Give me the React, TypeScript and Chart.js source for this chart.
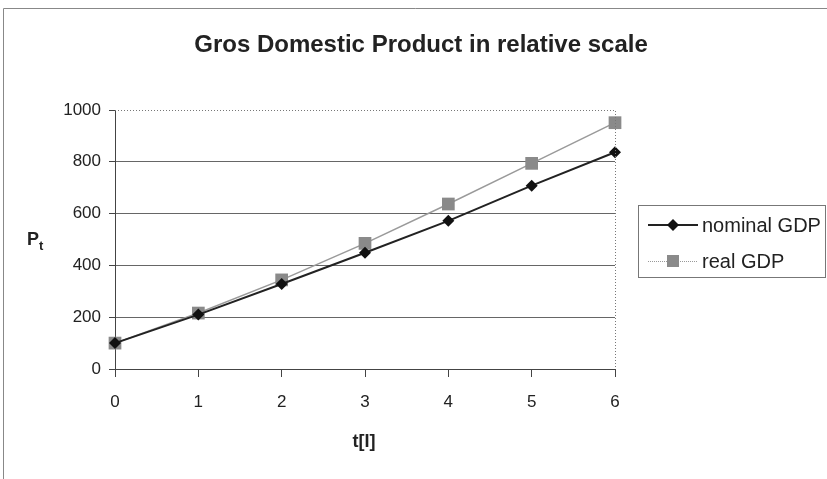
import React, { useEffect, useRef } from "react";
import { Chart, registerables } from "chart.js";

Chart.register(...registerables);

const categories = ["0", "1", "2", "3", "4", "5", "6"];
const nominalGDP = [100, 210, 328, 449, 572, 708, 837];
const realGDP = [100, 216, 344, 485, 637, 794, 951];
const seriesNames = ["nominal GDP", "real GDP"];
const titleText = "Gros Domestic Product in relative scale";
const xTitle = "t[I]";
const yTitleMain = "P";
const yTitleSub = "t";

const FONT = "'Liberation Sans', Arial, sans-serif";
const TEXT = "#222";

const decorPlugin = {
  id: "decor",
  afterDraw(chart: any) {
    const { ctx, chartArea } = chart;
    const ca = chartArea;
    ctx.save();
    // outer frame
    ctx.strokeStyle = "#888";
    ctx.lineWidth = 1;
    ctx.beginPath();
    ctx.moveTo(3.5, 479);
    ctx.lineTo(3.5, 8.5);
    ctx.lineTo(827, 8.5);
    ctx.stroke();

    // dotted plot border top/right
    ctx.strokeStyle = "#777";
    ctx.setLineDash([1, 2]);
    ctx.beginPath();
    ctx.moveTo(ca.left, ca.top + 0.5);
    ctx.lineTo(ca.right + 0.5, ca.top + 0.5);
    ctx.lineTo(ca.right + 0.5, ca.bottom);
    ctx.stroke();
    ctx.setLineDash([]);

    // title
    ctx.fillStyle = TEXT;
    ctx.font = `bold 24px ${FONT}`;
    ctx.textAlign = "center";
    ctx.textBaseline = "middle";
    ctx.fillText(titleText, 421, 45);

    // x title
    ctx.font = `bold 18px ${FONT}`;
    ctx.fillText(xTitle, 364, 442);

    // y title P_t
    ctx.textAlign = "left";
    ctx.font = `bold 18px ${FONT}`;
    ctx.fillText(yTitleMain, 27, 240);
    const pw = ctx.measureText(yTitleMain).width;
    ctx.font = `bold 13px ${FONT}`;
    ctx.fillText(yTitleSub, 27 + pw, 246);

    // legend
    ctx.strokeStyle = "#777";
    ctx.lineWidth = 1;
    ctx.strokeRect(638.5, 205.5, 187, 72);
    const rows = [225, 261];
    // row 1
    ctx.strokeStyle = "#222";
    ctx.lineWidth = 2;
    ctx.beginPath();
    ctx.moveTo(648, rows[0]);
    ctx.lineTo(698, rows[0]);
    ctx.stroke();
    ctx.fillStyle = "#111";
    ctx.beginPath();
    ctx.moveTo(673, rows[0] - 6);
    ctx.lineTo(679, rows[0]);
    ctx.lineTo(673, rows[0] + 6);
    ctx.lineTo(667, rows[0]);
    ctx.closePath();
    ctx.fill();
    // row 2
    ctx.strokeStyle = "#999";
    ctx.lineWidth = 1;
    ctx.setLineDash([1, 1]);
    ctx.beginPath();
    ctx.moveTo(648, rows[1] + 0.5);
    ctx.lineTo(698, rows[1] + 0.5);
    ctx.stroke();
    ctx.setLineDash([]);
    ctx.fillStyle = "#8a8a8a";
    ctx.fillRect(667, rows[1] - 6, 12, 12);

    ctx.fillStyle = TEXT;
    ctx.font = `20px ${FONT}`;
    ctx.textBaseline = "middle";
    ctx.fillText(seriesNames[0], 702, rows[0] + 1);
    ctx.fillText(seriesNames[1], 702, rows[1] + 1);
    ctx.restore();
  },
};

export default function App() {
  const ref = useRef<HTMLCanvasElement | null>(null);
  useEffect(() => {
    if (!ref.current) return;
    const chart = new Chart(ref.current, {
      type: "line",
      data: {
        labels: categories,
        datasets: [
          {
            label: seriesNames[0],
            data: nominalGDP,
            borderColor: "#222",
            backgroundColor: "#111",
            borderWidth: 2,
            pointStyle: "rectRot",
            pointRadius: 6,
            pointBackgroundColor: "#111",
            pointBorderColor: "#111",
            pointBorderWidth: 0,
            tension: 0,
          },
          {
            label: seriesNames[1],
            data: realGDP,
            borderColor: "#9a9a9a",
            backgroundColor: "#8a8a8a",
            borderWidth: 1.5,
            pointStyle: "rect",
            pointRadius: 9,
            pointBackgroundColor: "#8a8a8a",
            pointBorderColor: "#8a8a8a",
            pointBorderWidth: 0,
            tension: 0,
          },
        ],
      },
      options: {
        responsive: false,
        animation: false,
        layout: { padding: { left: 0, top: 110, right: 212, bottom: 0 } },
        plugins: {
          legend: { display: false },
          title: { display: false },
          tooltip: { enabled: false },
        },
        scales: {
          x: {
            type: "category",
            offset: false,
            grid: {
              display: true,
              drawOnChartArea: false,
              drawTicks: true,
              tickLength: 8,
              tickColor: "#444",
              offset: false,
            },
            border: { display: true, color: "#444", width: 1 },
            ticks: {
              color: TEXT,
              font: { family: FONT, size: 17 },
              padding: 15,
              maxRotation: 0,
            },
            afterFit: (s: any) => {
              s.height = 110;
            },
          },
          y: {
            min: 0,
            max: 1000,
            ticks: {
              stepSize: 200,
              color: TEXT,
              font: { family: FONT, size: 17 },
              padding: 8,
              callback: (v: any) => String(v),
            },
            grid: {
              color: (c: any) => (c.tick && c.tick.value === 1000 ? "rgba(0,0,0,0)" : "#666"),
              tickColor: "#444",
              tickLength: 6,
              lineWidth: 1,
            },
            border: { display: true, color: "#444", width: 1 },
            afterFit: (s: any) => {
              s.width = 115;
            },
          },
        },
      },
      plugins: [decorPlugin],
    });
    return () => chart.destroy();
  }, []);
  return (
    <div style={{ position: "fixed", left: 0, top: 0, width: 827, height: 479, background: "#fff" }}>
      <canvas ref={ref} width={827} height={479} style={{ display: "block" }} />
    </div>
  );
}
